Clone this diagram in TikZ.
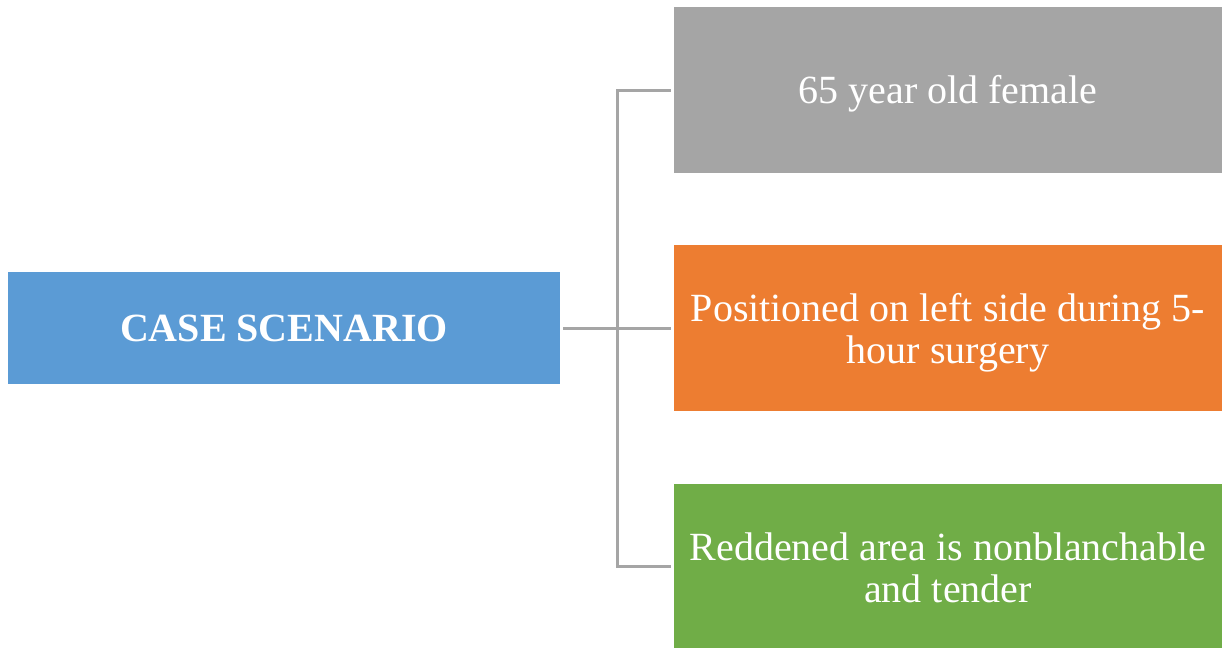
\documentclass[tikz,border=0pt]{standalone}
\usepackage{fontspec}
\setmainfont{Liberation Serif}
\definecolor{boxblue}{HTML}{5B9BD5}
\definecolor{boxgray}{HTML}{A5A5A5}
\definecolor{boxorange}{HTML}{ED7D31}
\definecolor{boxgreen}{HTML}{70AD47}
\definecolor{linkgray}{HTML}{A5A5A5}
\begin{document}
\begin{tikzpicture}[x=1pt,y=-1pt,
  card/.style={draw=none, inner sep=0pt, minimum width=548pt, minimum height=166pt},
  cardtext/.style={text=white, align=center, inner sep=0pt,
    font=\fontsize{40}{42}\selectfont},
  rootcard/.style={draw=none, inner sep=0pt, text=white,
    font=\bfseries\fontsize{40}{42}\selectfont,
    minimum width=552pt, minimum height=112pt},
  link/.style={draw=linkgray, line width=3pt}]
\useasboundingbox (0,0) rectangle (1222,648);
% root and branch boxes, captions set slightly below centre
\node[rootcard, fill=boxblue] (root) at (284,328) {CASE SCENARIO};
\node[card, fill=boxgray,
  label={[cardtext, yshift=-4pt]center:65 year old female}] (age) at (948,90) {};
\node[card, fill=boxorange,
  label={[cardtext, yshift=-5pt]center:Positioned on left side during 5-\\hour surgery}] (pos) at (948,328) {};
\node[card, fill=boxgreen, minimum height=164pt,
  label={[cardtext, yshift=-2pt]center:Reddened area is nonblanchable\\and tender}] (skin) at (948,566) {};
% bracket connectors
\coordinate (hub) at (617,328);
\draw[link] ([xshift=3pt]root.east) -- ([xshift=-3pt]pos.west);
\draw[link] ([xshift=-3pt]age.west) -| (hub) |- ([xshift=-3pt]skin.west);
\end{tikzpicture}
\end{document}
